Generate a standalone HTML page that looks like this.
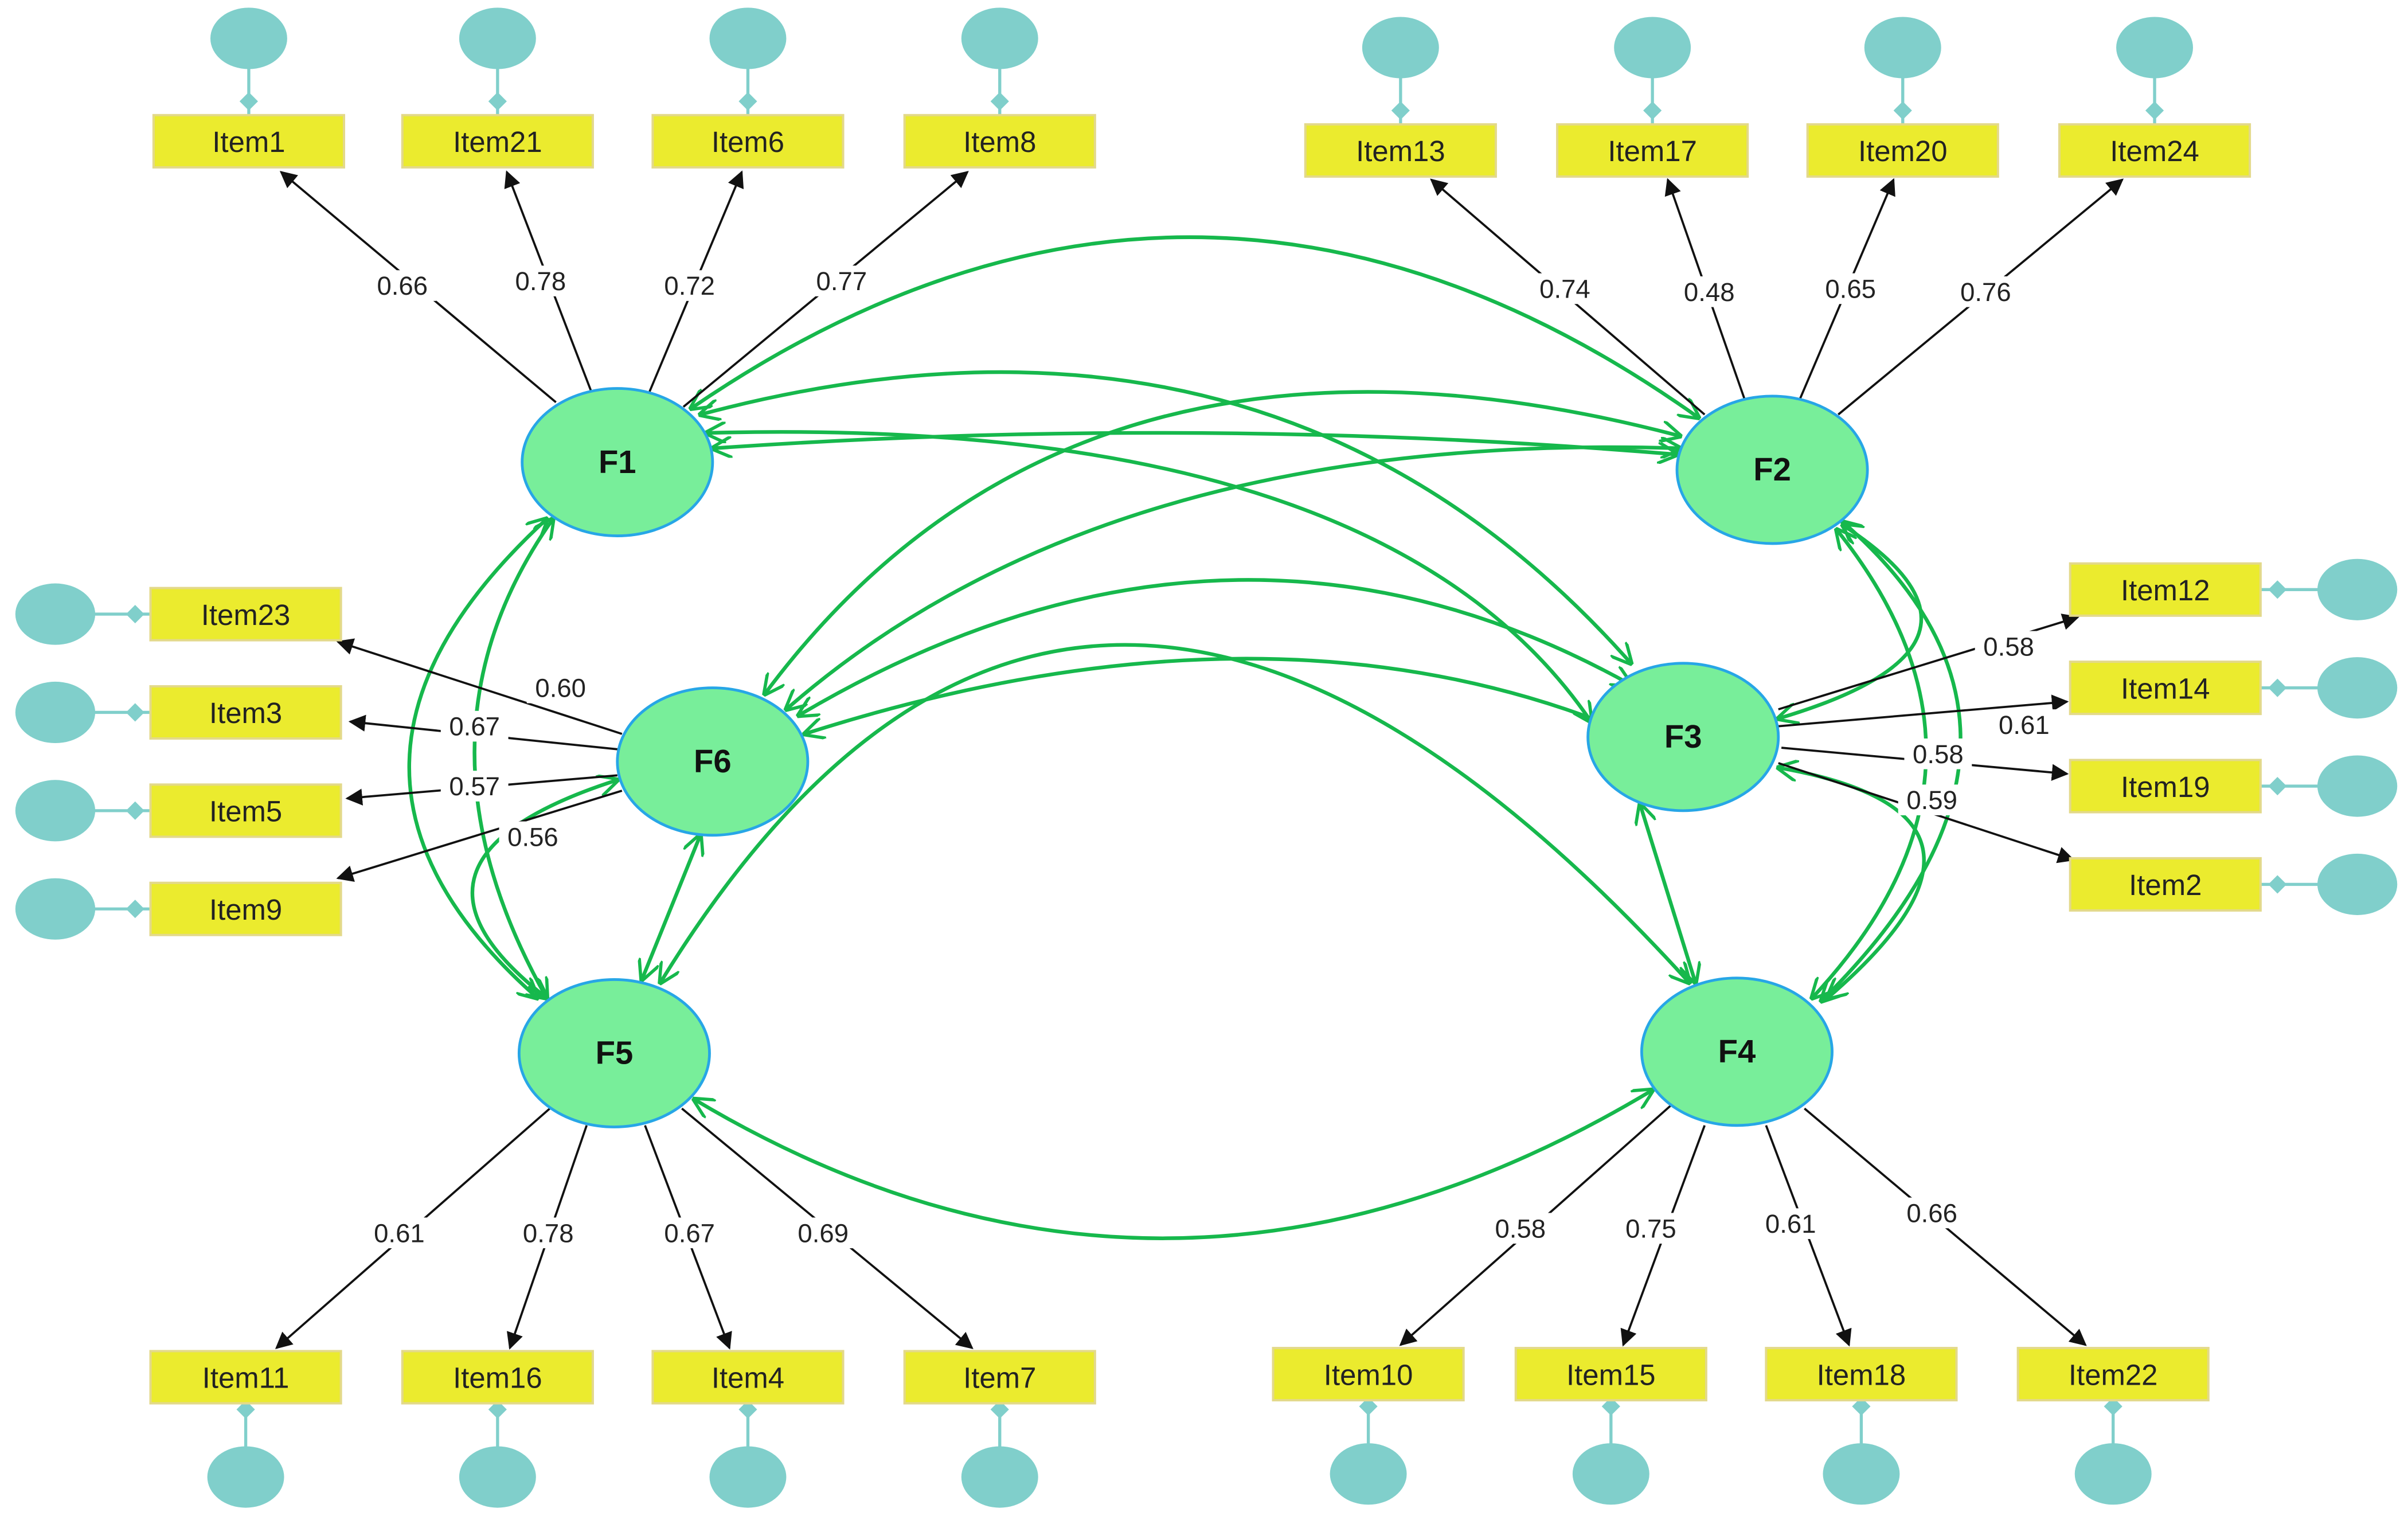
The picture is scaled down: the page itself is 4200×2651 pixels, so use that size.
<!DOCTYPE html>
<html><head><meta charset="utf-8"><style>
html,body{margin:0;padding:0;background:#fff;}
svg{display:block;}
.it rect{fill:#ebeb2e;stroke:#e3d98a;stroke-width:1.5;}
.it text{font-family:"Liberation Sans",sans-serif;font-size:19px;text-anchor:middle;fill:#222;}
.lb{font-family:"Liberation Sans",sans-serif;font-size:17px;text-anchor:middle;fill:#222;}
.lbb{fill:#fff;}
.f{fill:#78ee9a;stroke:#27a6e6;stroke-width:1.8;}
.ft{font-family:"Liberation Sans",sans-serif;font-size:21px;font-weight:bold;text-anchor:middle;fill:#111;}
.e{fill:#80cfcb;}
.el{stroke:#80cfcb;stroke-width:2;}
.d{fill:#80cfcb;}
.ld{stroke:#111;stroke-width:1.4;fill:none;marker-end:url(#ba);}
.g{stroke:#16b84c;stroke-width:2.4;fill:none;marker-end:url(#ga);marker-start:url(#gs);}
</style></head><body>
<svg width="4200" height="2651" viewBox="0 0 1568 990" preserveAspectRatio="none" xmlns="http://www.w3.org/2000/svg">
<defs>
<marker id="ba" viewBox="0 0 10 10" refX="9" refY="5" markerWidth="11" markerHeight="11" markerUnits="userSpaceOnUse" orient="auto"><path d="M0,0 L10,5 L0,10 z" fill="#111"/></marker>
<marker id="ga" viewBox="0 0 10 10" refX="9" refY="5" markerWidth="14" markerHeight="14" markerUnits="userSpaceOnUse" orient="auto"><path d="M0,0 L10,5 L0,10" fill="none" stroke="#16b84c" stroke-width="1.5"/></marker>
<marker id="gs" viewBox="0 0 10 10" refX="1" refY="5" markerWidth="14" markerHeight="14" markerUnits="userSpaceOnUse" orient="auto"><path d="M10,0 L0,5 L10,10" fill="none" stroke="#16b84c" stroke-width="1.5"/></marker>
</defs>

<!-- green covariance curves -->
<path class="g" d="M450,266 Q780,40 1106,272"/>
<path class="g" d="M464,292 Q780,270 1092,296"/>
<path class="g" d="M456,270 Q830,170 1062,432"/>
<path class="g" d="M460,282 Q900,270 1036,470"/>
<path class="g" d="M1094,284 Q700,180 498,452"/>
<path class="g" d="M1094,292 Q720,280 512,462"/>
<path class="g" d="M520,466 Q800,300 1062,446"/>
<path class="g" d="M524,478 Q830,380 1062,478"/>
<path class="g" d="M430,640 Q700,200 1100,640"/>
<path class="g" d="M456,544 L418,638"/>
<path class="g" d="M1068,524 L1104,640"/>
<path class="g" d="M452,716 Q760,900 1076,710"/>
<path class="g" d="M356,338 Q180,500 350,650"/>
<path class="g" d="M360,338 Q260,480 356,650"/>
<path class="g" d="M402,508 Q240,560 356,650"/>
<path class="g" d="M1200,340 Q1360,480 1186,652"/>
<path class="g" d="M1196,345 Q1320,500 1180,650"/>
<path class="g" d="M1158,500 Q1330,530 1190,650"/>
<path class="g" d="M1158,468 Q1320,420 1200,342"/>

<!-- loading lines -->
<g>
<path class="ld" d="M362,262 L183,112"/><path class="ld" d="M385,255 L330,112"/><path class="ld" d="M423,255 L483,112"/><path class="ld" d="M445,265 L630,112"/>
<path class="ld" d="M1110,270 L932,117"/><path class="ld" d="M1136,260 L1086,117"/><path class="ld" d="M1172,260 L1233,117"/><path class="ld" d="M1197,270 L1382,117"/>
<path class="ld" d="M405,478 L220,418"/><path class="ld" d="M402,488 L228,470"/><path class="ld" d="M402,505 L226,520"/><path class="ld" d="M405,515 L220,572"/>
<path class="ld" d="M1158,462 L1353,402"/><path class="ld" d="M1158,473 L1346,457"/><path class="ld" d="M1160,487 L1346,504"/><path class="ld" d="M1158,497 L1350,560"/>
<path class="ld" d="M358,722 L180,878"/><path class="ld" d="M382,733 L332,878"/><path class="ld" d="M420,733 L475,878"/><path class="ld" d="M444,722 L633,878"/>
<path class="ld" d="M1088,720 L912,876"/><path class="ld" d="M1110,733 L1057,876"/><path class="ld" d="M1150,733 L1204,876"/><path class="ld" d="M1175,722 L1358,876"/>
</g>

<!-- labels -->
<g>
<rect class="lbb" x="240" y="176" width="44" height="20"/><text class="lb" x="262" y="192">0.66</text>
<rect class="lbb" x="330" y="173" width="44" height="20"/><text class="lb" x="352" y="189">0.78</text>
<rect class="lbb" x="427" y="176" width="44" height="20"/><text class="lb" x="449" y="192">0.72</text>
<rect class="lbb" x="526" y="173" width="44" height="20"/><text class="lb" x="548" y="189">0.77</text>
<rect class="lbb" x="997" y="178" width="44" height="20"/><text class="lb" x="1019" y="194">0.74</text>
<rect class="lbb" x="1091" y="180" width="44" height="20"/><text class="lb" x="1113" y="196">0.48</text>
<rect class="lbb" x="1183" y="178" width="44" height="20"/><text class="lb" x="1205" y="194">0.65</text>
<rect class="lbb" x="1271" y="180" width="44" height="20"/><text class="lb" x="1293" y="196">0.76</text>
<rect class="lbb" x="343" y="438" width="44" height="20"/><text class="lb" x="365" y="454">0.60</text>
<rect class="lbb" x="287" y="463" width="44" height="20"/><text class="lb" x="309" y="479">0.67</text>
<rect class="lbb" x="287" y="502" width="44" height="20"/><text class="lb" x="309" y="518">0.57</text>
<rect class="lbb" x="325" y="535" width="44" height="20"/><text class="lb" x="347" y="551">0.56</text>
<rect class="lbb" x="1286" y="411" width="44" height="20"/><text class="lb" x="1308" y="427">0.58</text>
<rect class="lbb" x="1296" y="462" width="44" height="20"/><text class="lb" x="1318" y="478">0.61</text>
<rect class="lbb" x="1240" y="481" width="44" height="20"/><text class="lb" x="1262" y="497">0.58</text>
<rect class="lbb" x="1236" y="511" width="44" height="20"/><text class="lb" x="1258" y="527">0.59</text>
<rect class="lbb" x="238" y="793" width="44" height="20"/><text class="lb" x="260" y="809">0.61</text>
<rect class="lbb" x="335" y="793" width="44" height="20"/><text class="lb" x="357" y="809">0.78</text>
<rect class="lbb" x="427" y="793" width="44" height="20"/><text class="lb" x="449" y="809">0.67</text>
<rect class="lbb" x="514" y="793" width="44" height="20"/><text class="lb" x="536" y="809">0.69</text>
<rect class="lbb" x="968" y="790" width="44" height="20"/><text class="lb" x="990" y="806">0.58</text>
<rect class="lbb" x="1053" y="790" width="44" height="20"/><text class="lb" x="1075" y="806">0.75</text>
<rect class="lbb" x="1144" y="787" width="44" height="20"/><text class="lb" x="1166" y="803">0.61</text>
<rect class="lbb" x="1236" y="780" width="44" height="20"/><text class="lb" x="1258" y="796">0.66</text>
</g>

<!-- factors -->
<ellipse class="f" cx="402" cy="301" rx="62" ry="48"/><text class="ft" x="402" y="308">F1</text>
<ellipse class="f" cx="1154" cy="306" rx="62" ry="48"/><text class="ft" x="1154" y="313">F2</text>
<ellipse class="f" cx="1096" cy="480" rx="62" ry="48"/><text class="ft" x="1096" y="487">F3</text>
<ellipse class="f" cx="1131" cy="685" rx="62" ry="48"/><text class="ft" x="1131" y="692">F4</text>
<ellipse class="f" cx="400" cy="686" rx="62" ry="48"/><text class="ft" x="400" y="693">F5</text>
<ellipse class="f" cx="464" cy="496" rx="62" ry="48"/><text class="ft" x="464" y="503">F6</text>

<!-- top-left items -->
<g>
<line class="el" x1="162" y1="40" x2="162" y2="75"/><ellipse class="e" cx="162" cy="25" rx="25" ry="20"/><path class="d" d="M162,60 l6,6 -6,6 -6,-6z"/>
<line class="el" x1="324" y1="40" x2="324" y2="75"/><ellipse class="e" cx="324" cy="25" rx="25" ry="20"/><path class="d" d="M324,60 l6,6 -6,6 -6,-6z"/>
<line class="el" x1="487" y1="40" x2="487" y2="75"/><ellipse class="e" cx="487" cy="25" rx="25" ry="20"/><path class="d" d="M487,60 l6,6 -6,6 -6,-6z"/>
<line class="el" x1="651" y1="40" x2="651" y2="75"/><ellipse class="e" cx="651" cy="25" rx="25" ry="20"/><path class="d" d="M651,60 l6,6 -6,6 -6,-6z"/>
<g class="it"><rect x="100" y="75" width="124" height="34"/><text x="162" y="99">Item1</text></g>
<g class="it"><rect x="262" y="75" width="124" height="34"/><text x="324" y="99">Item21</text></g>
<g class="it"><rect x="425" y="75" width="124" height="34"/><text x="487" y="99">Item6</text></g>
<g class="it"><rect x="589" y="75" width="124" height="34"/><text x="651" y="99">Item8</text></g>
</g>
<!-- top-right items -->
<g>
<line class="el" x1="912" y1="46" x2="912" y2="81"/><ellipse class="e" cx="912" cy="31" rx="25" ry="20"/><path class="d" d="M912,66 l6,6 -6,6 -6,-6z"/>
<line class="el" x1="1076" y1="46" x2="1076" y2="81"/><ellipse class="e" cx="1076" cy="31" rx="25" ry="20"/><path class="d" d="M1076,66 l6,6 -6,6 -6,-6z"/>
<line class="el" x1="1239" y1="46" x2="1239" y2="81"/><ellipse class="e" cx="1239" cy="31" rx="25" ry="20"/><path class="d" d="M1239,66 l6,6 -6,6 -6,-6z"/>
<line class="el" x1="1403" y1="46" x2="1403" y2="81"/><ellipse class="e" cx="1403" cy="31" rx="25" ry="20"/><path class="d" d="M1403,66 l6,6 -6,6 -6,-6z"/>
<g class="it"><rect x="850" y="81" width="124" height="34"/><text x="912" y="105">Item13</text></g>
<g class="it"><rect x="1014" y="81" width="124" height="34"/><text x="1076" y="105">Item17</text></g>
<g class="it"><rect x="1177" y="81" width="124" height="34"/><text x="1239" y="105">Item20</text></g>
<g class="it"><rect x="1341" y="81" width="124" height="34"/><text x="1403" y="105">Item24</text></g>
</g>
<!-- left items -->
<g>
<line class="el" x1="60" y1="400" x2="98" y2="400"/><ellipse class="e" cx="36" cy="400" rx="26" ry="20"/><path class="d" d="M82,400 l6,-6 6,6 -6,6z"/>
<line class="el" x1="60" y1="464" x2="98" y2="464"/><ellipse class="e" cx="36" cy="464" rx="26" ry="20"/><path class="d" d="M82,464 l6,-6 6,6 -6,6z"/>
<line class="el" x1="60" y1="528" x2="98" y2="528"/><ellipse class="e" cx="36" cy="528" rx="26" ry="20"/><path class="d" d="M82,528 l6,-6 6,6 -6,6z"/>
<line class="el" x1="60" y1="592" x2="98" y2="592"/><ellipse class="e" cx="36" cy="592" rx="26" ry="20"/><path class="d" d="M82,592 l6,-6 6,6 -6,6z"/>
<g class="it"><rect x="98" y="383" width="124" height="34"/><text x="160" y="407">Item23</text></g>
<g class="it"><rect x="98" y="447" width="124" height="34"/><text x="160" y="471">Item3</text></g>
<g class="it"><rect x="98" y="511" width="124" height="34"/><text x="160" y="535">Item5</text></g>
<g class="it"><rect x="98" y="575" width="124" height="34"/><text x="160" y="599">Item9</text></g>
</g>
<!-- right items -->
<g>
<line class="el" x1="1472" y1="384" x2="1512" y2="384"/><ellipse class="e" cx="1535" cy="384" rx="26" ry="20"/><path class="d" d="M1477,384 l6,-6 6,6 -6,6z"/>
<line class="el" x1="1472" y1="448" x2="1512" y2="448"/><ellipse class="e" cx="1535" cy="448" rx="26" ry="20"/><path class="d" d="M1477,448 l6,-6 6,6 -6,6z"/>
<line class="el" x1="1472" y1="512" x2="1512" y2="512"/><ellipse class="e" cx="1535" cy="512" rx="26" ry="20"/><path class="d" d="M1477,512 l6,-6 6,6 -6,6z"/>
<line class="el" x1="1472" y1="576" x2="1512" y2="576"/><ellipse class="e" cx="1535" cy="576" rx="26" ry="20"/><path class="d" d="M1477,576 l6,-6 6,6 -6,6z"/>
<g class="it"><rect x="1348" y="367" width="124" height="34"/><text x="1410" y="391">Item12</text></g>
<g class="it"><rect x="1348" y="431" width="124" height="34"/><text x="1410" y="455">Item14</text></g>
<g class="it"><rect x="1348" y="495" width="124" height="34"/><text x="1410" y="519">Item19</text></g>
<g class="it"><rect x="1348" y="559" width="124" height="34"/><text x="1410" y="583">Item2</text></g>
</g>
<!-- bottom-left items -->
<g>
<line class="el" x1="160" y1="914" x2="160" y2="947"/><ellipse class="e" cx="160" cy="962" rx="25" ry="20"/><path class="d" d="M160,912 l6,6 -6,6 -6,-6z"/>
<line class="el" x1="324" y1="914" x2="324" y2="947"/><ellipse class="e" cx="324" cy="962" rx="25" ry="20"/><path class="d" d="M324,912 l6,6 -6,6 -6,-6z"/>
<line class="el" x1="487" y1="914" x2="487" y2="947"/><ellipse class="e" cx="487" cy="962" rx="25" ry="20"/><path class="d" d="M487,912 l6,6 -6,6 -6,-6z"/>
<line class="el" x1="651" y1="914" x2="651" y2="947"/><ellipse class="e" cx="651" cy="962" rx="25" ry="20"/><path class="d" d="M651,912 l6,6 -6,6 -6,-6z"/>
<g class="it"><rect x="98" y="880" width="124" height="34"/><text x="160" y="904">Item11</text></g>
<g class="it"><rect x="262" y="880" width="124" height="34"/><text x="324" y="904">Item16</text></g>
<g class="it"><rect x="425" y="880" width="124" height="34"/><text x="487" y="904">Item4</text></g>
<g class="it"><rect x="589" y="880" width="124" height="34"/><text x="651" y="904">Item7</text></g>
</g>
<!-- bottom-right items -->
<g>
<line class="el" x1="891" y1="912" x2="891" y2="945"/><ellipse class="e" cx="891" cy="960" rx="25" ry="20"/><path class="d" d="M891,910 l6,6 -6,6 -6,-6z"/>
<line class="el" x1="1049" y1="912" x2="1049" y2="945"/><ellipse class="e" cx="1049" cy="960" rx="25" ry="20"/><path class="d" d="M1049,910 l6,6 -6,6 -6,-6z"/>
<line class="el" x1="1212" y1="912" x2="1212" y2="945"/><ellipse class="e" cx="1212" cy="960" rx="25" ry="20"/><path class="d" d="M1212,910 l6,6 -6,6 -6,-6z"/>
<line class="el" x1="1376" y1="912" x2="1376" y2="945"/><ellipse class="e" cx="1376" cy="960" rx="25" ry="20"/><path class="d" d="M1376,910 l6,6 -6,6 -6,-6z"/>
<g class="it"><rect x="829" y="878" width="124" height="34"/><text x="891" y="902">Item10</text></g>
<g class="it"><rect x="987" y="878" width="124" height="34"/><text x="1049" y="902">Item15</text></g>
<g class="it"><rect x="1150" y="878" width="124" height="34"/><text x="1212" y="902">Item18</text></g>
<g class="it"><rect x="1314" y="878" width="124" height="34"/><text x="1376" y="902">Item22</text></g>
</g>
</svg>
</body></html>
